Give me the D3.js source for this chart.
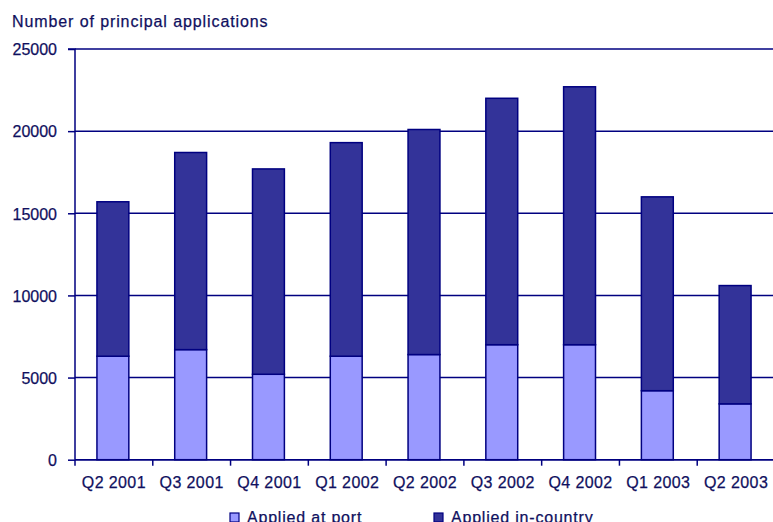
<!DOCTYPE html>
<html>
<head>
<meta charset="utf-8">
<script src="https://cdn.jsdelivr.net/npm/d3@7"></script>
<style>
  body { margin: 0; background: #fff; }
  svg text { font-family: "Liberation Sans", Arial, sans-serif; fill: #10105e; stroke: #10105e; stroke-width: 0.25px; }
</style>
</head>
<body>
<div id="vis"></div>
<script>
const quarters = ['Q2 2001', 'Q3 2001', 'Q4 2001', 'Q1 2002', 'Q2 2002', 'Q3 2002', 'Q4 2002', 'Q1 2003', 'Q2 2003'];
// total height of each bar, and the lower (port) part
const totals = [15700, 18700, 17700, 19300, 20100, 22000, 22700, 16000, 10600];
const atPort = [6300, 6700, 5200, 6300, 6400, 7000, 7000, 4200, 3400];
const yTicks = [0, 5000, 10000, 15000, 20000, 25000];
const seriesNames = ['Applied at port', 'Applied in-country'];

const W = 773, H = 522;
const margin = { top: 49, right: -2, bottom: 62, left: 75 };
const colors = { port: '#9999ff', country: '#333399', line: '#000080' };

const rows = quarters.map((q, i) => ({ q, port: atPort[i], country: totals[i] - atPort[i] }));

const svg = d3.select('#vis').append('svg')
    .attr('width', W)
    .attr('height', H);

const xScale = d3.scaleBand()
    .domain(quarters)
    .range([margin.left, W - margin.right])
    .paddingInner(0.59)
    .paddingOuter(0.295);

const yScale = d3.scaleLinear()
    .domain([0, 25000])
    .range([H - margin.bottom - 0.3, margin.top]);

// gridlines
svg.append('g')
    .selectAll('line')
    .data(yTicks)
    .join('line')
        .attr('x1', margin.left)
        .attr('x2', W)
        .attr('y1', d => yScale(d))
        .attr('y2', d => yScale(d))
        .attr('stroke', colors.line)
        .attr('stroke-width', 1.5);

// y axis
const yAxis = svg.append('g')
    .attr('transform', `translate(${margin.left},0)`)
    .call(d3.axisLeft(yScale).tickValues(yTicks).tickSize(7).tickPadding(11).tickFormat(d3.format('d')));
yAxis.selectAll('line, path').attr('stroke', colors.line).attr('stroke-width', 1.5);
yAxis.select('.domain').attr('d', `M-7,${yScale(25000)}H0V${yScale(0)}`);
yAxis.selectAll('text')
    .style('font-size', '16px')
    .attr('fill', '#10105e')
    .attr('dy', '0.36em');

// x axis with ticks between categories
const xAxisG = svg.append('g');
xAxisG.append('line')
    .attr('x1', margin.left).attr('x2', W)
    .attr('y1', yScale(0)).attr('y2', yScale(0))
    .attr('stroke', colors.line).attr('stroke-width', 1.5);
const step = xScale.step();
xAxisG.selectAll('.xtick')
    .data(quarters)
    .join('line')
        .attr('class', 'xtick')
        .attr('x1', (d, i) => margin.left + i * step)
        .attr('x2', (d, i) => margin.left + i * step)
        .attr('y1', yScale(0))
        .attr('y2', yScale(0) + 6)
        .attr('stroke', colors.line)
        .attr('stroke-width', 1.5);
xAxisG.selectAll('.xlabel')
    .data(quarters)
    .join('text')
        .attr('class', 'xlabel')
        .attr('x', d => xScale(d) + xScale.bandwidth() / 2)
        .attr('y', 488)
        .attr('text-anchor', 'middle')
        .style('font-size', '16px')
        .style('letter-spacing', '0.4px')
        .text(d => d);

// stacked bars
const bars = svg.append('g');
bars.selectAll('.bar-port')
    .data(rows)
    .join('rect')
        .attr('class', 'bar-port')
        .attr('x', d => xScale(d.q) - 1)
        .attr('width', xScale.bandwidth())
        .attr('y', d => yScale(d.port))
        .attr('height', d => yScale(0) - yScale(d.port))
        .attr('fill', colors.port)
        .attr('stroke', colors.line)
        .attr('stroke-width', 1.5);
bars.selectAll('.bar-country')
    .data(rows)
    .join('rect')
        .attr('class', 'bar-country')
        .attr('x', d => xScale(d.q) - 1)
        .attr('width', xScale.bandwidth())
        .attr('y', d => yScale(d.port + d.country))
        .attr('height', d => yScale(d.port) - yScale(d.port + d.country))
        .attr('fill', colors.country)
        .attr('stroke', colors.line)
        .attr('stroke-width', 1.5);

// title
svg.append('text')
    .attr('x', 12)
    .attr('y', 27)
    .style('font-size', '16px')
    .style('letter-spacing', '0.9px')
    .text('Number of principal applications');

// legend (cut by the bottom edge, as in the original)
const legendX = [230, 434];
const legendFill = [colors.port, colors.country];
const legend = svg.append('g');
legend.selectAll('rect')
    .data(seriesNames)
    .join('rect')
        .attr('x', (d, i) => legendX[i])
        .attr('y', 513)
        .attr('width', 9)
        .attr('height', 9)
        .attr('fill', (d, i) => legendFill[i])
        .attr('stroke', colors.line)
        .attr('stroke-width', 1.2);
legend.selectAll('text')
    .data(seriesNames)
    .join('text')
        .attr('x', (d, i) => legendX[i] + 17)
        .attr('y', 523)
        .style('font-size', '16px')
        .style('letter-spacing', '0.8px')
        .text(d => d);
</script>
</body>
</html>
